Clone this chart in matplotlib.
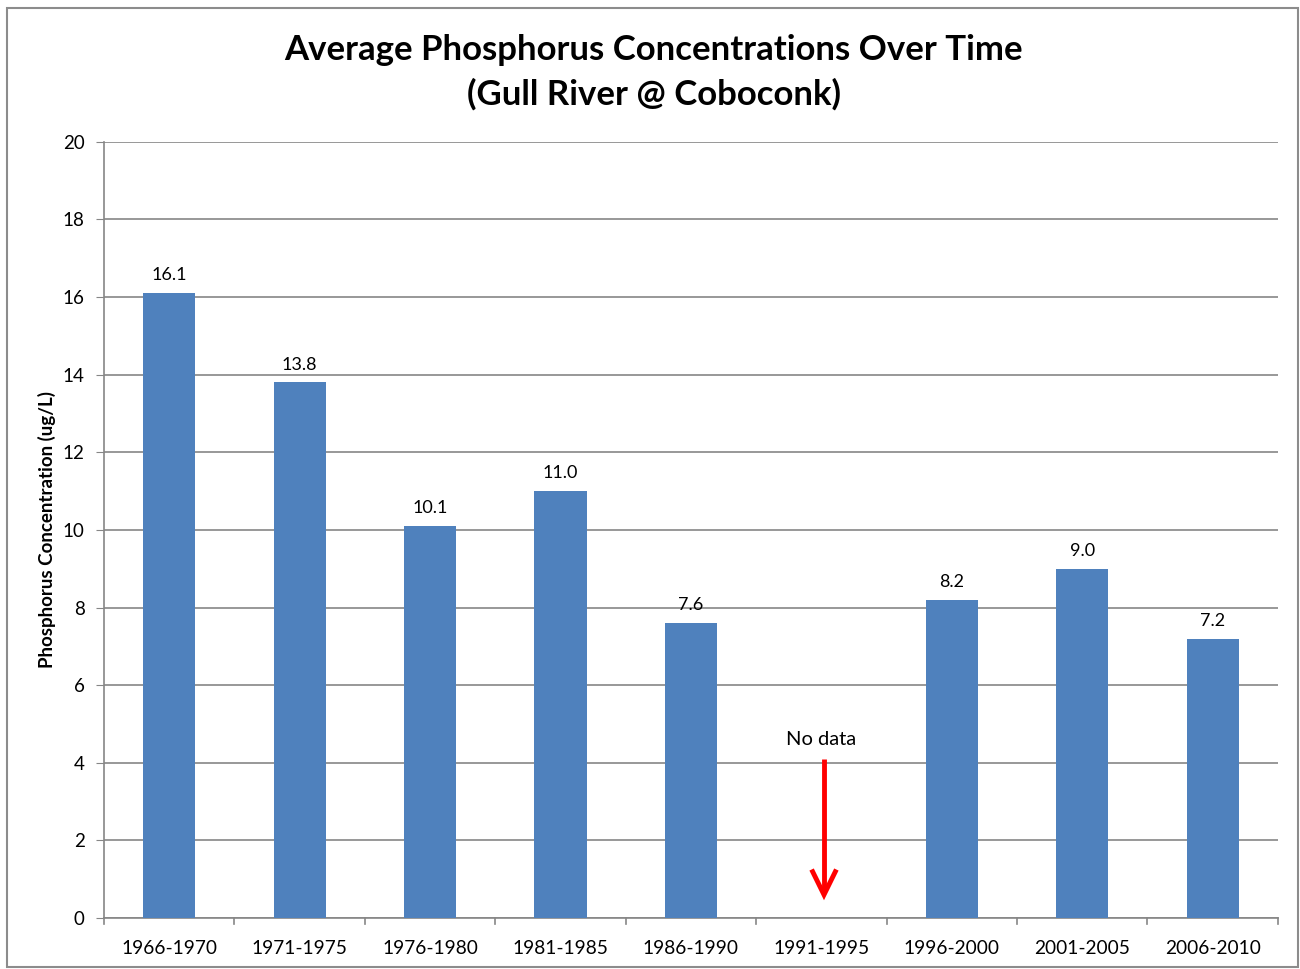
import matplotlib
matplotlib.use("Agg")
import matplotlib.pyplot as plt
from matplotlib.patches import Rectangle

plt.rcParams['font.family'] = ['Lato', 'DejaVu Sans']

categories = ["1966-1970", "1971-1975", "1976-1980", "1981-1985", "1986-1990",
              "1991-1995", "1996-2000", "2001-2005", "2006-2010"]
values = [16.1, 13.8, 10.1, 11.0, 7.6, None, 8.2, 9.0, 7.2]
labels = ["16.1", "13.8", "10.1", "11.0", "7.6", None, "8.2", "9.0", "7.2"]
no_data_label = "No data"
no_data_index = 5
arrow_start, arrow_end = 4.1, 0.6
title = "Average Phosphorus Concentrations Over Time\n(Gull River @ Coboconk)"
ylabel = "Phosphorus Concentration (ug/L)"
yticks = [0, 2, 4, 6, 8, 10, 12, 14, 16, 18, 20]

fig = plt.figure(figsize=(13, 9.69), dpi=100)
ax = fig.add_axes([0.08, 0.0526, 0.903, 0.801])

grid_c = "#868686"
bar_c = "#4F81BD"

xs = list(range(len(categories)))
for x, v, lab in zip(xs, values, labels):
    if v is None:
        continue
    ax.bar(x, v, width=0.4, color=bar_c, zorder=3)
    ax.annotate(lab, (x, v), xytext=(0, 7), textcoords="offset points",
                ha="center", va="bottom", fontsize=13, color="black")

ax.annotate(no_data_label, (no_data_index, arrow_start), xytext=(0, 8),
            textcoords="offset points", ha="center", va="bottom", fontsize=14.5)
xa = no_data_index + 0.02
ax.plot([xa, xa], [arrow_start, arrow_end + 0.1],
        color="red", lw=3.5, zorder=4, solid_capstyle="butt")
ax.plot([xa - 0.095, xa, xa + 0.095],
        [arrow_end + 0.65, arrow_end, arrow_end + 0.65],
        color="red", lw=3.5, zorder=4, solid_joinstyle="miter", solid_capstyle="butt")

ax.set_xlim(-0.5, len(categories) - 0.5)
ax.set_ylim(0, 20)
ax.set_yticks(yticks)
ax.set_yticklabels([str(t) for t in yticks], fontsize=13.5)
ax.set_xticks(xs)
ax.set_xticklabels(categories, fontsize=13.8)
ax.tick_params(axis="x", length=0, pad=16)
ax.tick_params(axis="y", length=6, color=grid_c, pad=8)
for b in [x - 0.5 for x in range(len(categories) + 1)]:
    ax.plot([b, b], [0, -0.15], color=grid_c, lw=1.2, clip_on=False, zorder=2)

ax.yaxis.grid(True, color=grid_c, lw=1.2, zorder=0)
ax.set_axisbelow(True)
for s in ["top", "right"]:
    ax.spines[s].set_visible(False)
ax.spines["left"].set_color(grid_c)
ax.spines["bottom"].set_color(grid_c)
ax.spines["left"].set_linewidth(1.2)
ax.spines["bottom"].set_linewidth(1.2)

ax.set_ylabel(ylabel, fontsize=13.5, fontweight="bold", labelpad=5)
fig.text(0.503, 0.965, title, ha="center", va="top", fontsize=25,
         fontweight="bold", linespacing=1.45)

fig.patches.append(Rectangle((0.0055, 0.002), 0.993, 0.99, transform=fig.transFigure,
                             fill=False, edgecolor="#8c8c8c", lw=1.5))

fig.savefig("out.png", dpi=100, facecolor="white")
